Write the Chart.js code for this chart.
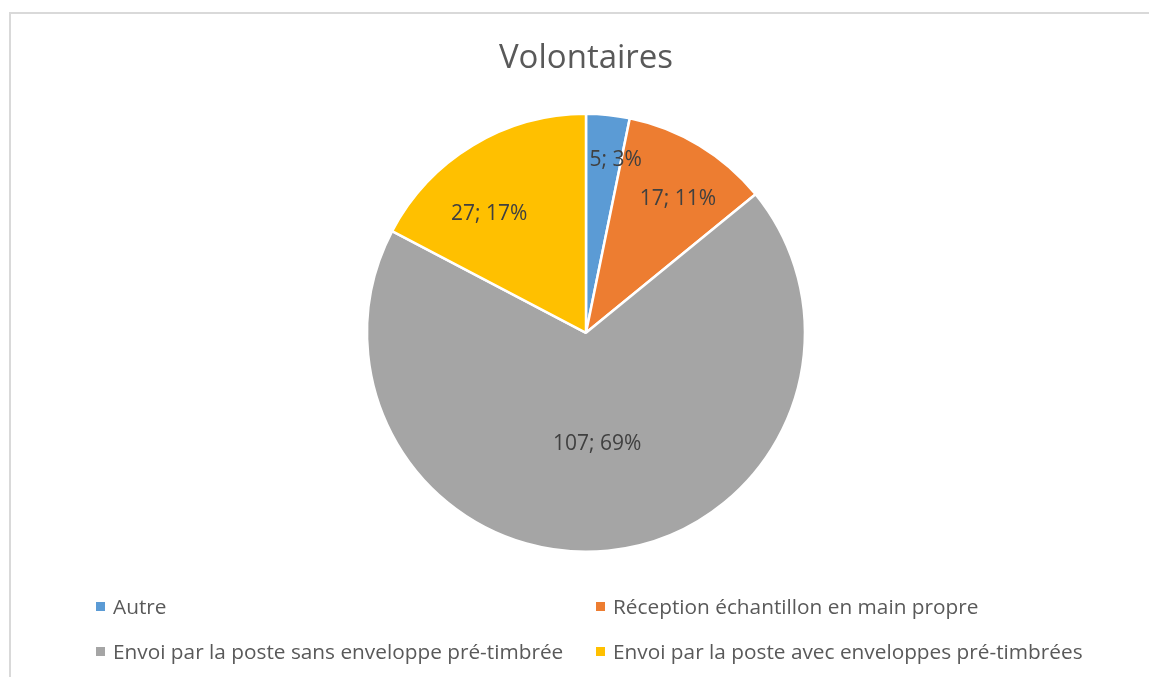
<!DOCTYPE html>
<html>
<head>
<meta charset="utf-8">
<script src="https://cdn.jsdelivr.net/npm/chart.js@4/dist/chart.umd.min.js"></script>
<style>
  html, body { margin: 0; padding: 0; background: #fff; overflow: hidden; }
  #frame {
    position: absolute; left: 9px; top: 12px; width: 1200px; height: 700px;
    border: 2px solid #d9d9d9; box-sizing: border-box;
  }
  #wrap { position: absolute; left: 0; top: 0; width: 1149px; height: 677px; }
  #legend { position: absolute; left: 0; top: 0; width: 1149px; height: 677px; pointer-events: none; }
  .item {
    position: absolute; font-family: "Open Sans", sans-serif; font-size: 20.8px;
    color: #595959; white-space: nowrap; line-height: 24px;
  }
  .item span.box {
    display: inline-block; width: 9px; height: 9px; margin-right: 8px; vertical-align: 3px;
  }
</style>
</head>
<body>
<div id="frame"></div>
<div id="wrap"><canvas id="pieChart" width="1149" height="677"></canvas></div>
<div id="legend"></div>
<script>
const chartTitle = "Volontaires";
const categories = [
  "Autre",
  "Réception échantillon en main propre",
  "Envoi par la poste sans enveloppe pré-timbrée",
  "Envoi par la poste avec enveloppes pré-timbrées",
];
const counts = [5, 17, 107, 27];
const percents = [3, 11, 69, 17];
const colors = ["#5B9BD5", "#ED7D31", "#A5A5A5", "#FFC000"];

document.addEventListener("DOMContentLoaded", () => {
  // labels inside the slices, "value; percent"
  const sliceLabels = {
    id: "sliceLabels",
    afterDatasetsDraw(chart, args, opts) {
      const { ctx } = chart;
      const meta = chart.getDatasetMeta(0);
      ctx.save();
      ctx.font = "21px 'Open Sans', sans-serif";
      ctx.fillStyle = "#404040";
      ctx.textAlign = "center";
      ctx.textBaseline = "middle";
      meta.data.forEach((arc, i) => {
        const p = arc.getProps(["x", "y", "startAngle", "endAngle", "outerRadius"], true);
        const mid = (p.startAngle + p.endAngle) / 2 + (opts.shift[i] || 0);
        const r = p.outerRadius * opts.radius[i];
        const txt = counts[i] + "; " + percents[i] + "%";
        ctx.fillText(txt, p.x + Math.cos(mid) * r, p.y + Math.sin(mid) * r);
      });
      ctx.restore();
    },
  };

  const ctx = document.getElementById("pieChart").getContext("2d");
  new Chart(ctx, {
    type: "pie",
    data: {
      labels: categories,
      datasets: [
        {
          data: counts,
          backgroundColor: colors,
          borderColor: "#ffffff",
          borderWidth: 2.5,
        },
      ],
    },
    options: {
      responsive: false,
      animation: false,
      layout: { padding: { top: 20, bottom: 124, left: 365, right: 342 } },
      plugins: {
        legend: { display: false },
        tooltip: { enabled: false },
        title: {
          display: true,
          text: chartTitle,
          color: "#595959",
          font: { family: "'Open Sans', sans-serif", size: 33, weight: "normal" },
          padding: { top: 19, bottom: 34 },
        },
        sliceLabels: {
          radius: [0.8, 0.74, 0.51, 0.7],
          shift: [0.07, 0.06, 0, -0.14],
        },
      },
    },
    plugins: [sliceLabels],
  });

  // Legend, two columns like the original
  const legend = document.getElementById("legend");
  const cols = [96, 596];
  const rows = [594, 639];
  categories.forEach((name, i) => {
    const d = document.createElement("div");
    d.className = "item";
    d.style.left = cols[i % 2] + "px";
    d.style.top = rows[Math.floor(i / 2)] + "px";
    d.innerHTML = '<span class="box" style="background:' + colors[i] + '"></span>' + name;
    legend.appendChild(d);
  });
});
</script>
</body>
</html>
